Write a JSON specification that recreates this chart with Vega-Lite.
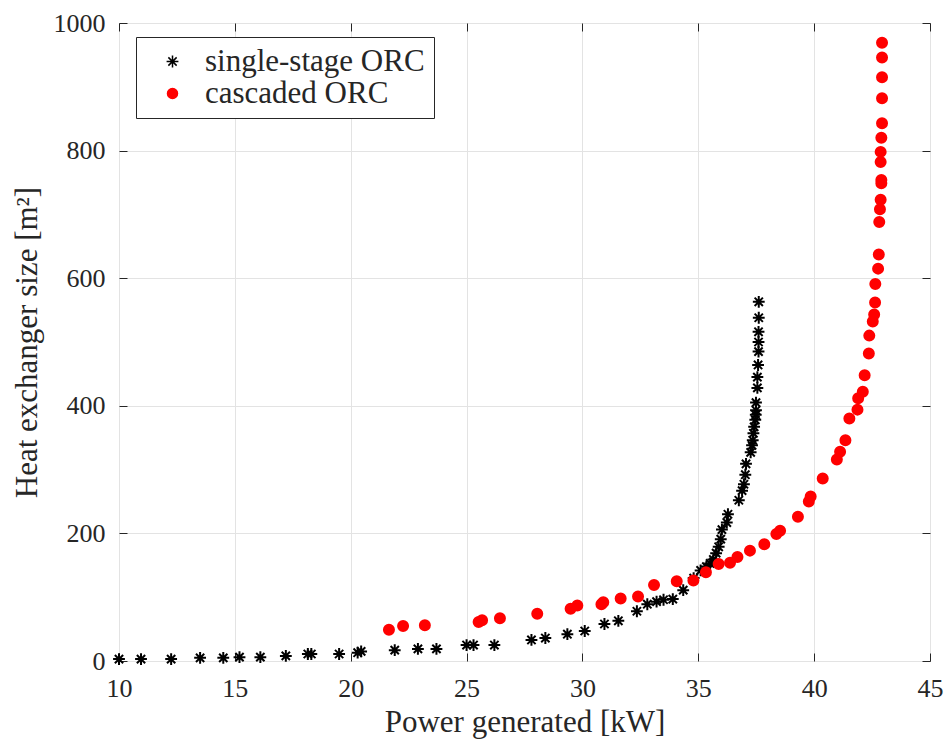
{
  "$schema": "https://vega.github.io/schema/vega-lite/v6.json",
  "width": 811,
  "height": 638,
  "autosize": {"type": "none"},
  "padding": {"left": 119, "top": 23, "right": 19, "bottom": 81},
  "config": {
    "font": "Liberation Serif",
    "view": {"stroke": "#262626", "strokeWidth": 1},
    "axis": {
      "labelFont": "Liberation Serif",
      "titleFont": "Liberation Serif",
      "labelColor": "#262626",
      "titleColor": "#262626",
      "labelFontSize": 26,
      "titleFontSize": 31,
      "titleFontWeight": "normal",
      "tickColor": "#262626",
      "tickSize": -8,
      "tickWidth": 1,
      "domain": false,
      "labelFlush": false,
      "gridColor": "#e3e3e3",
      "gridWidth": 1
    },
    "legend": {
      "labelFont": "Liberation Serif",
      "labelFontSize": 31,
      "labelColor": "#262626",
      "labelLimit": 0
    }
  },
  "data": {
    "values": [
      {"series": "single-stage ORC", "x": 10.0, "y": 3},
      {"series": "single-stage ORC", "x": 10.95, "y": 3},
      {"series": "single-stage ORC", "x": 12.25, "y": 3},
      {"series": "single-stage ORC", "x": 13.5, "y": 5},
      {"series": "single-stage ORC", "x": 14.5, "y": 5},
      {"series": "single-stage ORC", "x": 15.2, "y": 6},
      {"series": "single-stage ORC", "x": 16.1, "y": 6},
      {"series": "single-stage ORC", "x": 17.2, "y": 8},
      {"series": "single-stage ORC", "x": 18.15, "y": 11},
      {"series": "single-stage ORC", "x": 18.3, "y": 11},
      {"series": "single-stage ORC", "x": 19.5, "y": 11},
      {"series": "single-stage ORC", "x": 20.3, "y": 13},
      {"series": "single-stage ORC", "x": 20.45, "y": 15},
      {"series": "single-stage ORC", "x": 21.9, "y": 17},
      {"series": "single-stage ORC", "x": 22.9, "y": 19},
      {"series": "single-stage ORC", "x": 23.7, "y": 19},
      {"series": "single-stage ORC", "x": 25.0, "y": 25},
      {"series": "single-stage ORC", "x": 25.3, "y": 25},
      {"series": "single-stage ORC", "x": 26.2, "y": 25},
      {"series": "single-stage ORC", "x": 27.8, "y": 33},
      {"series": "single-stage ORC", "x": 28.4, "y": 36},
      {"series": "single-stage ORC", "x": 29.35, "y": 42},
      {"series": "single-stage ORC", "x": 30.1, "y": 47},
      {"series": "single-stage ORC", "x": 30.95, "y": 58},
      {"series": "single-stage ORC", "x": 31.55, "y": 63},
      {"series": "single-stage ORC", "x": 32.35, "y": 78},
      {"series": "single-stage ORC", "x": 32.8, "y": 89},
      {"series": "single-stage ORC", "x": 33.2, "y": 93},
      {"series": "single-stage ORC", "x": 33.5, "y": 96},
      {"series": "single-stage ORC", "x": 33.9, "y": 97},
      {"series": "single-stage ORC", "x": 34.35, "y": 111},
      {"series": "single-stage ORC", "x": 34.8, "y": 130},
      {"series": "single-stage ORC", "x": 35.1, "y": 142},
      {"series": "single-stage ORC", "x": 35.35, "y": 148},
      {"series": "single-stage ORC", "x": 35.51, "y": 153},
      {"series": "single-stage ORC", "x": 35.65, "y": 159},
      {"series": "single-stage ORC", "x": 35.77, "y": 169},
      {"series": "single-stage ORC", "x": 35.88, "y": 179},
      {"series": "single-stage ORC", "x": 35.97, "y": 191},
      {"series": "single-stage ORC", "x": 36.02, "y": 206},
      {"series": "single-stage ORC", "x": 36.23, "y": 217},
      {"series": "single-stage ORC", "x": 36.28, "y": 230},
      {"series": "single-stage ORC", "x": 36.75, "y": 252},
      {"series": "single-stage ORC", "x": 36.89, "y": 267},
      {"series": "single-stage ORC", "x": 36.97, "y": 277},
      {"series": "single-stage ORC", "x": 37.03, "y": 292},
      {"series": "single-stage ORC", "x": 37.06, "y": 309},
      {"series": "single-stage ORC", "x": 37.26, "y": 327},
      {"series": "single-stage ORC", "x": 37.32, "y": 338},
      {"series": "single-stage ORC", "x": 37.35, "y": 346},
      {"series": "single-stage ORC", "x": 37.38, "y": 357},
      {"series": "single-stage ORC", "x": 37.41, "y": 367},
      {"series": "single-stage ORC", "x": 37.46, "y": 378},
      {"series": "single-stage ORC", "x": 37.48, "y": 386},
      {"series": "single-stage ORC", "x": 37.49, "y": 393},
      {"series": "single-stage ORC", "x": 37.49, "y": 405},
      {"series": "single-stage ORC", "x": 37.55, "y": 428},
      {"series": "single-stage ORC", "x": 37.55, "y": 445},
      {"series": "single-stage ORC", "x": 37.58, "y": 464},
      {"series": "single-stage ORC", "x": 37.6, "y": 485},
      {"series": "single-stage ORC", "x": 37.6, "y": 500},
      {"series": "single-stage ORC", "x": 37.6, "y": 516},
      {"series": "single-stage ORC", "x": 37.61, "y": 538},
      {"series": "single-stage ORC", "x": 37.61, "y": 563},
      {"series": "cascaded ORC", "x": 21.65, "y": 49},
      {"series": "cascaded ORC", "x": 22.26, "y": 55},
      {"series": "cascaded ORC", "x": 23.2, "y": 56},
      {"series": "cascaded ORC", "x": 25.52, "y": 61},
      {"series": "cascaded ORC", "x": 25.67, "y": 64},
      {"series": "cascaded ORC", "x": 26.44, "y": 67},
      {"series": "cascaded ORC", "x": 28.05, "y": 74},
      {"series": "cascaded ORC", "x": 29.49, "y": 82},
      {"series": "cascaded ORC", "x": 29.78, "y": 87},
      {"series": "cascaded ORC", "x": 30.82, "y": 89},
      {"series": "cascaded ORC", "x": 30.9, "y": 92},
      {"series": "cascaded ORC", "x": 31.65, "y": 98},
      {"series": "cascaded ORC", "x": 32.4, "y": 101},
      {"series": "cascaded ORC", "x": 33.09, "y": 119},
      {"series": "cascaded ORC", "x": 34.07, "y": 125},
      {"series": "cascaded ORC", "x": 34.79, "y": 126},
      {"series": "cascaded ORC", "x": 35.33, "y": 139},
      {"series": "cascaded ORC", "x": 35.88, "y": 152},
      {"series": "cascaded ORC", "x": 36.37, "y": 154},
      {"series": "cascaded ORC", "x": 36.69, "y": 163},
      {"series": "cascaded ORC", "x": 37.23, "y": 173},
      {"series": "cascaded ORC", "x": 37.85, "y": 183},
      {"series": "cascaded ORC", "x": 38.37, "y": 199},
      {"series": "cascaded ORC", "x": 38.53, "y": 204},
      {"series": "cascaded ORC", "x": 39.3, "y": 226},
      {"series": "cascaded ORC", "x": 39.77, "y": 250},
      {"series": "cascaded ORC", "x": 39.85, "y": 258},
      {"series": "cascaded ORC", "x": 40.37, "y": 286},
      {"series": "cascaded ORC", "x": 40.98, "y": 316},
      {"series": "cascaded ORC", "x": 41.12, "y": 328},
      {"series": "cascaded ORC", "x": 41.35, "y": 346},
      {"series": "cascaded ORC", "x": 41.52, "y": 380},
      {"series": "cascaded ORC", "x": 41.87, "y": 394},
      {"series": "cascaded ORC", "x": 41.9, "y": 412},
      {"series": "cascaded ORC", "x": 42.1, "y": 422},
      {"series": "cascaded ORC", "x": 42.18, "y": 448},
      {"series": "cascaded ORC", "x": 42.36, "y": 482},
      {"series": "cascaded ORC", "x": 42.38, "y": 510},
      {"series": "cascaded ORC", "x": 42.53, "y": 532},
      {"series": "cascaded ORC", "x": 42.59, "y": 543},
      {"series": "cascaded ORC", "x": 42.63, "y": 562},
      {"series": "cascaded ORC", "x": 42.64, "y": 591},
      {"series": "cascaded ORC", "x": 42.76, "y": 615},
      {"series": "cascaded ORC", "x": 42.79, "y": 637},
      {"series": "cascaded ORC", "x": 42.81, "y": 688},
      {"series": "cascaded ORC", "x": 42.84, "y": 708},
      {"series": "cascaded ORC", "x": 42.87, "y": 723},
      {"series": "cascaded ORC", "x": 42.9, "y": 749},
      {"series": "cascaded ORC", "x": 42.9, "y": 754},
      {"series": "cascaded ORC", "x": 42.87, "y": 782},
      {"series": "cascaded ORC", "x": 42.87, "y": 798},
      {"series": "cascaded ORC", "x": 42.9, "y": 820},
      {"series": "cascaded ORC", "x": 42.93, "y": 843},
      {"series": "cascaded ORC", "x": 42.93, "y": 882},
      {"series": "cascaded ORC", "x": 42.93, "y": 915},
      {"series": "cascaded ORC", "x": 42.93, "y": 946},
      {"series": "cascaded ORC", "x": 42.93, "y": 969}
    ]
  },
  "layer": [
    {
      "mark": {"type": "point", "opacity": 0},
      "encoding": {
        "x": {"field": "x", "type": "quantitative", "scale": {"domain": [10, 45], "nice": false, "zero": false},
          "axis": {"orient": "top", "values": [10, 15, 20, 25, 30, 35, 40, 45], "labels": false, "grid": false, "title": null}},
        "y": {"field": "y", "type": "quantitative", "scale": {"domain": [0, 1000], "nice": false},
          "axis": {"orient": "right", "values": [0, 200, 400, 600, 800, 1000], "labels": false, "grid": false, "title": null}}
      }
    },
    {
      "mark": {"type": "point", "opacity": 1, "strokeWidth": 2},
      "encoding": {
        "x": {"field": "x", "type": "quantitative",
          "axis": {"orient": "bottom", "values": [10, 15, 20, 25, 30, 35, 40, 45], "grid": true, "title": "Power generated [kW]", "labelPadding": 22, "titlePadding": 6}},
        "y": {"field": "y", "type": "quantitative",
          "axis": {"orient": "left", "values": [0, 200, 400, 600, 800, 1000], "format": "d", "grid": true, "title": "Heat exchanger size [m²]", "labelPadding": 22, "titlePadding": 10}},
        "shape": {"field": "series", "type": "nominal", "title": null,
          "scale": {"domain": ["single-stage ORC", "cascaded ORC"], "range": ["M-1,0L1,0M0,-1L0,1M-0.7,-0.7L0.7,0.7M-0.7,0.7L0.7,-0.7", "circle"]},
          "legend": {"orient": "none", "legendX": 17, "legendY": 14, "strokeColor": "#262626", "fillColor": "white", "padding": 9, "symbolOffset": 12, "labelOffset": 17, "rowPadding": 0}},
        "fill": {"field": "series", "type": "nominal", "title": null,
          "scale": {"domain": ["single-stage ORC", "cascaded ORC"], "range": ["transparent", "#ff0000"]}},
        "stroke": {"field": "series", "type": "nominal", "title": null,
          "scale": {"domain": ["single-stage ORC", "cascaded ORC"], "range": ["#000000", "#ff0000"]}},
        "size": {"field": "series", "type": "nominal", "title": null,
          "scale": {"domain": ["single-stage ORC", "cascaded ORC"], "range": [140, 100]}}
      }
    }
  ],
  "resolve": {"axis": {"x": "independent", "y": "independent"}}
}
